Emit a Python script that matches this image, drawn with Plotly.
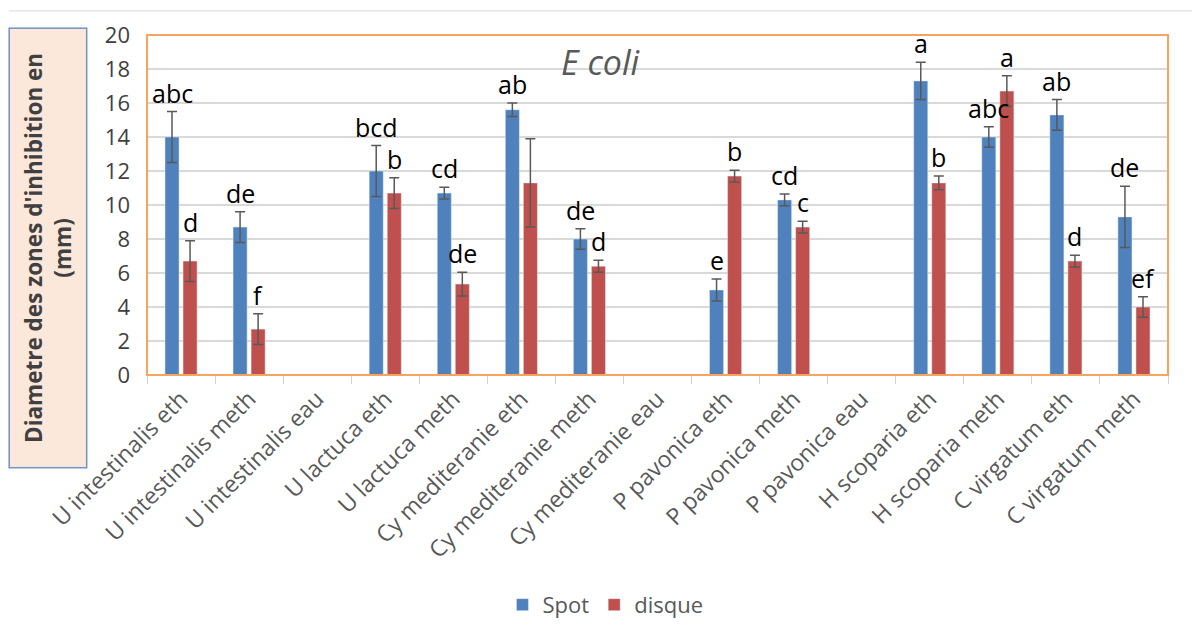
import plotly.graph_objects as go

categories = [
    "U intestinalis eth", "U intestinalis meth", "U intestinalis eau",
    "U lactuca eth", "U lactuca meth", "Cy mediteranie eth",
    "Cy mediteranie meth", "Cy mediteranie eau", "P pavonica eth",
    "P pavonica meth", "P pavonica eau", "H scoparia eth",
    "H scoparia meth", "C virgatum eth", "C virgatum meth",
]

spot_mean = [14.0, 8.7, 0, 12.0, 10.7, 15.6, 8.0, 0, 5.0, 10.3, 0, 17.3, 14.0, 15.3, 9.3]
spot_err = [1.5, 0.9, 0, 1.5, 0.35, 0.4, 0.6, 0, 0.65, 0.35, 0, 1.1, 0.6, 0.9, 1.8]
spot_letters = ["abc", "de", "", "bcd", "cd", "ab", "de", "", "e", "cd", "", "a", "abc", "ab", "de"]

disque_mean = [6.7, 2.7, 0, 10.7, 5.35, 11.3, 6.4, 0, 11.7, 8.7, 0, 11.3, 16.7, 6.7, 4.0]
disque_err = [1.2, 0.9, 0, 0.9, 0.7, 2.6, 0.35, 0, 0.35, 0.35, 0, 0.4, 0.9, 0.35, 0.6]
disque_letters = ["d", "f", "", "b", "de", "", "d", "", "b", "c", "", "b", "a", "d", "ef"]

y_ticks = [0, 2, 4, 6, 8, 10, 12, 14, 16, 18, 20]

FONT = "'Open Sans', Lato, sans-serif"
BLUE = "#4F81BD"
RED = "#C0504D"
ERR = "#595959"

fig = go.Figure()
fig.add_trace(go.Bar(
    name="Spot", x=categories, y=spot_mean, marker_color=BLUE,
    error_y=dict(type="data", array=spot_err, color=ERR, thickness=1.5, width=5),
))
fig.add_trace(go.Bar(
    name="disque", x=categories, y=disque_mean, marker_color=RED,
    error_y=dict(type="data", array=disque_err, color=ERR, thickness=1.5, width=5),
))

# significance letters above each bar's error bar
annotations = []
for series, shift in ((zip(spot_mean, spot_err, spot_letters), -9),
                      (zip(disque_mean, disque_err, disque_letters), 9)):
    for cat, (m, e, lab) in zip(categories, series):
        if not lab:
            continue
        annotations.append(dict(
            x=cat, y=m + e, xref="x", yref="y", text=lab, showarrow=False,
            xshift=shift, yshift=0, yanchor="bottom",
            font=dict(family=FONT, size=25, color="#000000"),
        ))

# chart title inside the plot area
annotations.append(dict(
    x=0.444, y=0.92, xref="paper", yref="paper", text="<i>E coli</i>",
    xanchor="center", yanchor="middle",
    showarrow=False, font=dict(family=FONT, size=34, color="#595959"),
))

# boxed y-axis title
annotations.append(dict(
    x=-0.0975, y=0.3735, xref="paper", yref="paper",
    xanchor="center", yanchor="middle",
    text="<b>Diametre des zones d'inhibition en<br>(mm)</b>",
    textangle=-90, showarrow=False, width=436, height=74,
    bgcolor="#FCE8DA", bordercolor="#6F93C4", borderwidth=1.5,
    font=dict(family=FONT, size=22.5, color="#404040"),
))

fig.update_layout(
    width=1192, height=641,
    margin=dict(l=147, r=24, t=35, b=266),
    paper_bgcolor="white", plot_bgcolor="white",
    barmode="group", bargap=0.47, bargroupgap=0.22,
    annotations=annotations,
    legend=dict(
        orientation="h", x=0.449, xanchor="center", y=-0.676, yanchor="middle",
        font=dict(family=FONT, size=22, color="#595959"),
    ),
    font=dict(family=FONT),
    shapes=[
        dict(type="rect", xref="paper", yref="paper", x0=0, x1=1, y0=0, y1=1,
             line=dict(color="#F6A45E", width=2), layer="above"),
        dict(type="line", xref="paper", yref="paper", x0=-0.135, x1=1.03,
             y0=1.071, y1=1.071, line=dict(color="#D9D9D9", width=1)),
    ],
)
fig.update_xaxes(
    type="category", tickangle=-45, tickson="boundaries",
    ticks="outside", ticklen=8, tickcolor="#D0D0D0",
    showgrid=False, showline=False, ticklabelstandoff=5,
    tickfont=dict(family=FONT, size=23, color="#595959"),
)
fig.update_yaxes(
    range=[0, 20], tickvals=y_ticks, showgrid=True, gridcolor="#D9D9D9",
    gridwidth=1.5, zeroline=False, showline=False, ticks="",
    ticklabelstandoff=16,
    tickfont=dict(family=FONT, size=22, color="#404040"),
)

fig.write_html("out.html")
